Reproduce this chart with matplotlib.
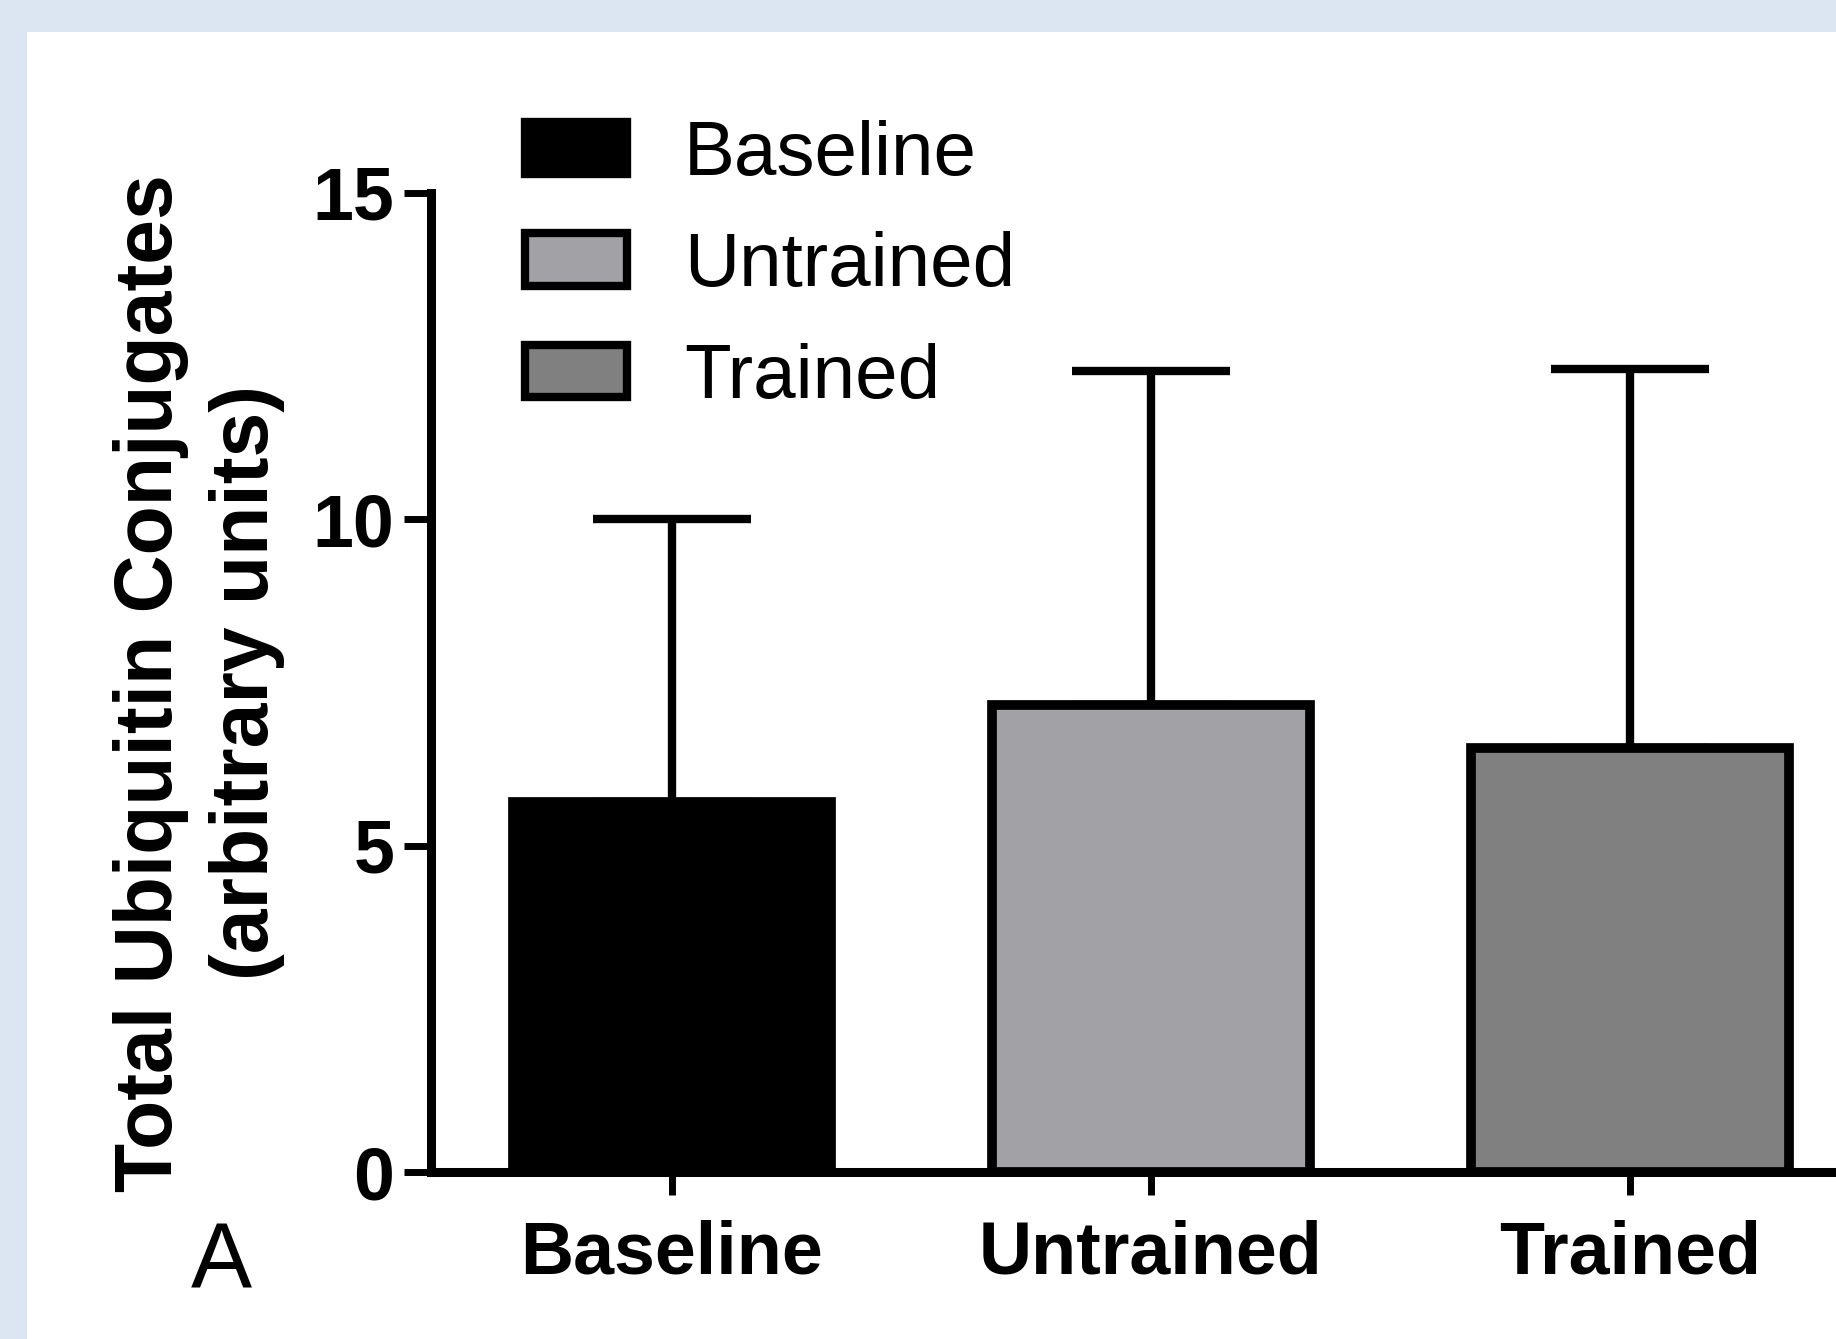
import matplotlib
matplotlib.use("Agg")
import matplotlib.pyplot as plt
from matplotlib.patches import Rectangle

categories = ["Baseline", "Untrained", "Trained"]
means = [5.67, 7.16, 6.50]
sd_upper = [4.33, 5.11, 5.80]
colors = ["#000000", "#a2a1a6", "#808080"]
yticks = [0, 5, 10, 15]

plt.rcParams["font.family"] = ["Liberation Sans", "DejaVu Sans"]

W, H = 1836, 1339
fig = plt.figure(figsize=(W / 100, H / 100), dpi=100)
fig.patch.set_facecolor("#dce6f2")
fig.patches.append(Rectangle((27 / W, 0), 1, 1 - 32 / H, transform=fig.transFigure,
                             facecolor="white", edgecolor="none", zorder=-10))

ax = fig.add_axes([431 / W, 167 / H, 0.8617, 0.7312])
ax.set_facecolor("none")
x = list(range(len(categories)))
bars = ax.bar(x, means, width=0.665, color=colors, edgecolor="black", linewidth=7,
              zorder=2)
ax.errorbar(x, means, yerr=[[0] * len(means), sd_upper], fmt="none", ecolor="black",
            elinewidth=6, capsize=57, capthick=6, zorder=1)

ax.set_xlim(-0.503, 2.8)
ax.set_ylim(0, 15)
ax.set_yticks(yticks)
ax.set_xticks(x)
ax.set_xticklabels(categories)
for s in ["top", "right"]:
    ax.spines[s].set_visible(False)
for s in ["left", "bottom"]:
    ax.spines[s].set_linewidth(6.5)
ax.tick_params(axis="y", length=19.5, width=5, pad=7, labelsize=53)
ax.tick_params(axis="x", length=16.5, width=5, pad=18, labelsize=53)
for lab in ax.get_xticklabels() + ax.get_yticklabels():
    lab.set_fontweight("bold")

handles = [Rectangle((0, 0), 1, 1, facecolor=c, edgecolor="black", linewidth=6,
                     joinstyle="round") for c in colors]
leg = ax.legend(handles, categories, loc="upper left",
                bbox_to_anchor=(525 / W, 1 - 120 / H), bbox_transform=fig.transFigure,
                frameon=False, fontsize=55, handlelength=1.33, handleheight=0.68,
                handletextpad=0.75, labelspacing=0.53, borderpad=0, borderaxespad=0)

fig.text(199 / W, 0.49, "Total Ubiquitin Conjugates\n(arbitrary units)", rotation=90,
         ha="center", va="center", multialignment="center", fontsize=58,
         fontweight="bold", linespacing=1.34)
fig.text(221 / W, 51 / H, "A", ha="center", va="baseline", fontsize=66)

fig.savefig("out.png", dpi=100, facecolor=fig.get_facecolor())
